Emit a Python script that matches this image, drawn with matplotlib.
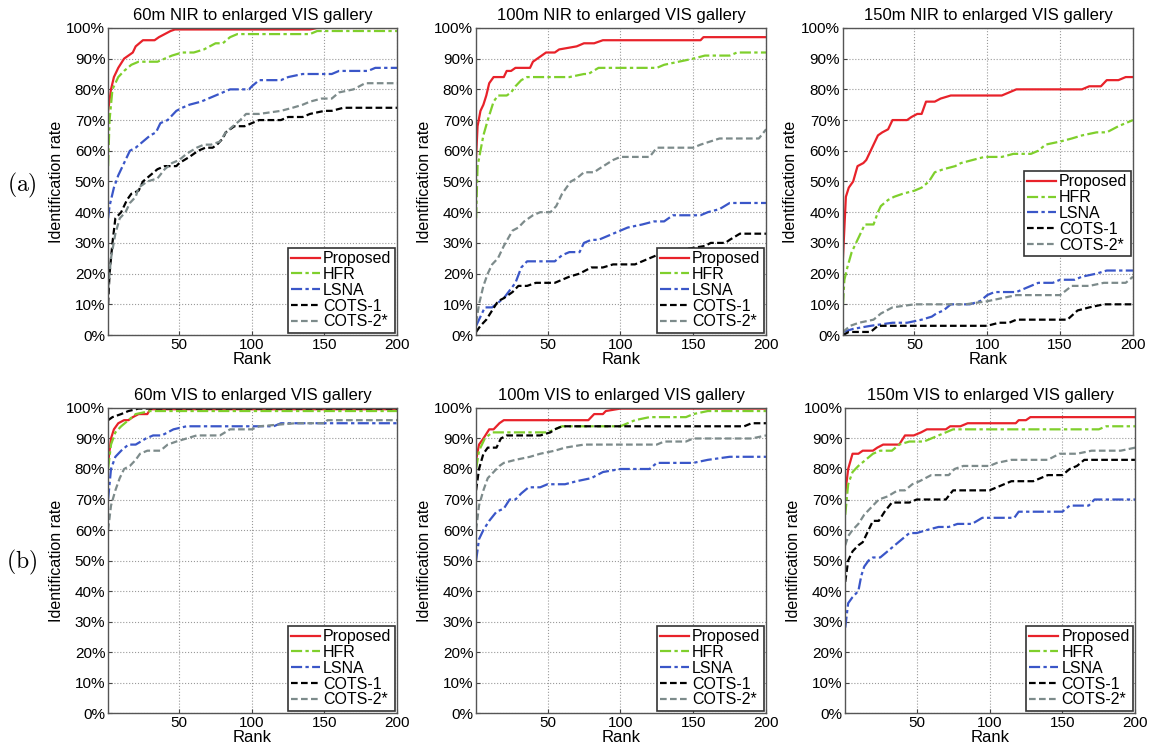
import matplotlib
matplotlib.use("Agg")
import matplotlib.pyplot as plt
from matplotlib.ticker import FuncFormatter

plt.rcParams['font.family'] = ['Liberation Sans', 'DejaVu Sans']
plt.rcParams['mathtext.fontset'] = 'cm'

methods = ['Proposed', 'HFR', 'LSNA', 'COTS-1', 'COTS-2*']
colors = ['#e8222a', '#7fcf2c', '#3a56c8', '#000000', '#7d8b8b']
styles = ['-', (0, (5, 1.5, 1.5, 1.5)), (0, (5, 1.5, 1.5, 1.5)), (0, (3, 1.5)), (0, (3, 1.5))]

titles = ['60m NIR to enlarged VIS gallery', '100m NIR to enlarged VIS gallery',
          '150m NIR to enlarged VIS gallery', '60m VIS to enlarged VIS gallery',
          '100m VIS to enlarged VIS gallery', '150m VIS to enlarged VIS gallery']

# CMC curves, (rank, identification rate %) breakpoints per method
nir60 = {
    'Proposed': [(1, 73), (3, 80), (5, 84), (8, 87), (12, 90), (15, 91), (18, 92), (20, 94), (25, 96),
                 (33, 96), (36, 97), (40, 98), (44, 99), (47, 99.5), (140, 99.5), (145, 100), (200, 100)],
    'HFR': [(1, 55), (2, 70), (4, 80), (8, 84), (12, 86), (17, 88), (22, 89), (35, 89), (40, 90), (45, 91),
            (52, 92), (60, 92), (67, 93), (75, 95), (80, 95), (85, 97), (90, 98), (140, 98), (145, 99), (200, 99)],
    'LSNA': [(1, 38), (2, 42), (5, 48), (8, 52), (12, 56), (16, 60), (20, 61), (25, 63), (30, 65), (34, 66),
             (37, 69), (42, 70), (48, 73), (52, 74), (57, 75), (65, 76), (70, 77), (75, 78), (85, 80), (98, 80),
             (100, 81), (105, 83), (120, 83), (125, 84), (135, 85), (155, 85), (160, 86), (180, 86), (185, 87), (200, 87)],
    'COTS-1': [(1, 10), (2, 20), (4, 30), (6, 38), (10, 40), (14, 44), (17, 46), (22, 47), (25, 50), (30, 52),
               (35, 54), (40, 55), (48, 55), (50, 56), (57, 58), (63, 60), (68, 61), (73, 61), (76, 62), (80, 64),
               (82, 66), (88, 68), (95, 68), (100, 69), (105, 70), (120, 70), (125, 71), (135, 71), (140, 72),
               (150, 73), (155, 73), (163, 74), (200, 74)],
    'COTS-2*': [(1, 15), (3, 25), (6, 33), (9, 38), (13, 40), (16, 43), (20, 45), (22, 48), (28, 50), (35, 51),
                (40, 54), (45, 56), (50, 57), (55, 59), (62, 61), (67, 62), (72, 62), (78, 63), (82, 66), (92, 70),
                (96, 72), (105, 72), (120, 73), (128, 74), (135, 75), (140, 76), (148, 77), (155, 77), (160, 79),
                (170, 80), (178, 82), (200, 82)],
}

nir100 = {
    'Proposed': [(1, 58), (2, 68), (4, 73), (6, 75), (8, 78), (10, 82), (13, 84), (20, 84), (22, 86), (25, 86),
                 (28, 87), (38, 87), (40, 89), (43, 90), (49, 92), (55, 92), (58, 93), (70, 94), (75, 95), (82, 95),
                 (88, 96), (155, 96), (157, 97), (200, 97)],
    'HFR': [(1, 38), (2, 55), (4, 60), (6, 65), (9, 70), (13, 76), (16, 78), (22, 78), (25, 79), (28, 81),
            (32, 83), (36, 84), (65, 84), (75, 85), (78, 85), (85, 87), (125, 87), (130, 88), (140, 89),
            (150, 90), (158, 91), (175, 91), (180, 92), (200, 92)],
    'LSNA': [(1, 3), (4, 6), (7, 9), (12, 9), (20, 12), (28, 17), (32, 22), (36, 24), (55, 24), (60, 26),
             (65, 27), (72, 27), (75, 30), (80, 31), (85, 31), (95, 33), (105, 35), (115, 36), (123, 37),
             (130, 37), (136, 39), (155, 39), (160, 40), (168, 41), (175, 43), (200, 43)],
    'COTS-1': [(1, 1), (4, 3), (8, 5), (12, 8), (16, 11), (20, 12), (26, 14), (30, 16), (36, 16), (42, 17),
               (55, 17), (65, 19), (72, 20), (80, 22), (88, 22), (95, 23), (110, 23), (115, 24), (125, 26),
               (135, 27), (145, 28), (158, 29), (162, 30), (172, 30), (175, 31), (182, 33), (200, 33)],
    'COTS-2*': [(1, 4), (3, 10), (6, 16), (9, 20), (12, 23), (16, 25), (20, 29), (26, 34), (30, 35), (34, 37),
                (40, 39), (45, 40), (52, 40), (56, 42), (60, 46), (66, 50), (70, 51), (75, 53), (82, 53),
                (85, 54), (95, 57), (100, 58), (120, 58), (125, 61), (150, 61), (155, 62), (168, 64),
                (195, 64), (200, 67)],
}

nir150 = {
    'Proposed': [(1, 25), (2, 35), (3, 45), (5, 48), (8, 50), (11, 55), (15, 56), (17, 57), (20, 60), (22, 62),
                 (25, 65), (28, 66), (32, 67), (35, 70), (45, 70), (48, 71), (52, 72), (55, 72), (58, 76),
                 (64, 76), (68, 77), (75, 78), (110, 78), (115, 79), (120, 80), (165, 80), (170, 81), (178, 81),
                 (182, 83), (190, 83), (195, 84), (200, 84)],
    'HFR': [(1, 10), (2, 18), (4, 22), (7, 27), (10, 30), (13, 33), (16, 36), (22, 36), (25, 40), (27, 42),
            (32, 44), (36, 45), (42, 46), (50, 47), (55, 48), (60, 50), (64, 53), (70, 54), (78, 55), (82, 56),
            (90, 57), (98, 58), (110, 58), (118, 59), (130, 59), (135, 60), (140, 62), (150, 63), (158, 64),
            (165, 65), (175, 66), (182, 66), (190, 68), (200, 70)],
    'LSNA': [(1, 1), (8, 2), (20, 3), (35, 4), (45, 4), (55, 5), (62, 6), (65, 7), (70, 8), (75, 10), (88, 10),
             (95, 11), (100, 13), (105, 14), (120, 14), (125, 15), (130, 16), (135, 17), (145, 17), (150, 18),
             (160, 18), (165, 19), (175, 20), (182, 21), (200, 21)],
    'COTS-1': [(1, 0), (5, 1), (20, 1), (25, 3), (100, 3), (108, 4), (115, 4), (120, 5), (155, 5), (162, 8),
               (170, 9), (180, 10), (200, 10)],
    'COTS-2*': [(1, 1), (6, 3), (12, 4), (22, 5), (27, 7), (35, 9), (50, 10), (85, 10), (100, 11), (110, 12),
                (120, 13), (150, 13), (158, 16), (170, 16), (180, 17), (195, 17), (200, 19)],
}

vis60 = {
    'Proposed': [(1, 82), (3, 90), (5, 93), (8, 95), (12, 96), (15, 96), (18, 97), (22, 98), (28, 98),
                 (30, 99.6), (200, 99.6)],
    'HFR': [(1, 80), (3, 88), (6, 92), (10, 94), (15, 96), (20, 98), (30, 99), (200, 99)],
    'LSNA': [(1, 70), (3, 80), (6, 84), (10, 86), (15, 88), (20, 88), (27, 90), (32, 91), (38, 91), (42, 92),
             (46, 93), (55, 94), (115, 94), (120, 95), (200, 95)],
    'COTS-1': [(1, 96), (4, 97), (10, 98), (15, 99), (22, 99.8), (200, 99.8)],
    'COTS-2*': [(1, 60), (3, 68), (6, 73), (9, 77), (12, 80), (16, 81), (20, 83), (23, 85), (28, 86), (37, 86),
                (42, 88), (48, 89), (55, 90), (62, 91), (78, 91), (85, 93), (100, 93), (105, 94), (130, 95),
                (150, 95), (152, 96), (200, 96)],
}

vis100 = {
    'Proposed': [(1, 83), (3, 88), (6, 90), (10, 93), (13, 93), (17, 95), (20, 96), (78, 96), (82, 98),
                 (88, 98), (90, 99), (100, 99.8), (200, 99.8)],
    'HFR': [(1, 80), (3, 86), (7, 90), (12, 92), (50, 92), (55, 93), (60, 94), (100, 94), (105, 95), (110, 96),
            (120, 97), (145, 97), (150, 98), (160, 99), (200, 99)],
    'LSNA': [(1, 50), (3, 57), (6, 60), (10, 63), (15, 66), (20, 67), (24, 70), (28, 70), (32, 72), (37, 74),
             (45, 74), (50, 75), (62, 75), (70, 76), (80, 77), (88, 79), (100, 80), (120, 80), (125, 82),
             (150, 82), (160, 83), (175, 84), (200, 84)],
    'COTS-1': [(1, 73), (3, 80), (6, 85), (9, 87), (15, 87), (18, 90), (22, 91), (45, 91), (52, 92), (55, 93),
               (60, 94), (185, 94), (190, 95), (200, 95)],
    'COTS-2*': [(1, 60), (3, 68), (6, 73), (9, 77), (13, 79), (17, 81), (20, 82), (28, 83), (38, 84), (45, 85),
                (55, 86), (62, 87), (75, 88), (125, 88), (130, 89), (145, 89), (150, 90), (190, 90), (200, 91)],
}

vis150 = {
    'Proposed': [(1, 72), (3, 80), (6, 85), (10, 85), (13, 86), (20, 86), (23, 87), (27, 88), (38, 88),
                 (42, 91), (48, 91), (53, 92), (57, 93), (70, 93), (73, 94), (80, 94), (85, 95), (118, 95),
                 (120, 96), (125, 96), (128, 97), (200, 97)],
    'HFR': [(1, 65), (3, 75), (6, 79), (10, 81), (15, 83), (20, 85), (25, 86), (33, 86), (38, 88), (45, 89),
            (55, 89), (60, 90), (65, 91), (75, 93), (175, 93), (180, 94), (200, 94)],
    'LSNA': [(1, 28), (3, 36), (6, 38), (10, 40), (12, 45), (14, 48), (17, 50), (20, 51), (25, 51), (30, 53),
             (35, 55), (40, 57), (45, 59), (50, 59), (57, 60), (65, 61), (72, 61), (78, 62), (88, 62),
             (95, 64), (117, 64), (120, 66), (150, 66), (155, 68), (168, 68), (172, 70), (200, 70)],
    'COTS-1': [(1, 43), (3, 50), (6, 53), (10, 55), (13, 56), (17, 60), (20, 63), (24, 63), (28, 66), (33, 69),
               (45, 69), (50, 70), (70, 70), (75, 73), (100, 73), (105, 74), (110, 75), (115, 76), (130, 76),
               (135, 77), (140, 78), (150, 78), (155, 80), (160, 81), (165, 83), (200, 83)],
    'COTS-2*': [(1, 55), (3, 58), (6, 60), (10, 62), (14, 65), (18, 67), (24, 70), (30, 71), (37, 73), (42, 73),
                (47, 75), (52, 76), (60, 78), (72, 78), (76, 80), (82, 81), (100, 81), (105, 82), (115, 83),
                (140, 83), (148, 85), (160, 85), (170, 86), (190, 86), (200, 87)],
}

panels = [nir60, nir100, nir150, vis60, vis100, vis150]

# axes rectangles in figure fractions
lefts = [0.094, 0.414, 0.733]
widths = [0.2513, 0.2522, 0.2522]
rows = [(0.5527, 0.4100), (0.0480, 0.4073)]

fig = plt.figure(figsize=(11.5, 7.49), dpi=100)

for i, data in enumerate(panels):
    r, c = divmod(i, 3)
    left = lefts[c] + (0.002 if (r == 1 and c == 2) else 0)
    ax = fig.add_axes([left, rows[r][0], widths[c], rows[r][1]])
    for m, col, ls in zip(methods, colors, styles):
        ranks = [p[0] for p in data[m]]
        rates = [p[1] / 100 for p in data[m]]
        ax.plot(ranks, rates, color=col, linestyle=ls, linewidth=1.6, label=m)
    ax.set_xlim(1, 200)
    ax.set_ylim(0, 1)
    ax.set_xticks([50, 100, 150, 200])
    ax.set_yticks([k / 10 for k in range(11)])
    ax.yaxis.set_major_formatter(FuncFormatter(lambda v, _: f"{v * 100:.0f}%"))
    ax.tick_params(direction='in', length=3, labelsize=11, pad=2, color='#444444')
    ax.grid(True, linestyle=':', color='#9a9a9a', linewidth=0.8)
    for s in ax.spines.values():
        s.set_color('#555555')
        s.set_linewidth(1.0)
    ax.set_title(titles[i], fontsize=12, pad=6)
    ax.set_xlabel('Rank', fontsize=12, labelpad=0)
    ax.set_ylabel('Identification rate', fontsize=11.5, labelpad=2)

    # 150m NIR legend sits higher, the others in the lower right corner
    anchor = (1.0, 0.25) if i == 2 else (1.0, 0.0)
    leg = ax.legend(loc='lower right', bbox_to_anchor=anchor,
                    fontsize=11.5, handlelength=1.8, handletextpad=0.2, labelspacing=0.05,
                    borderpad=0.2, borderaxespad=0.15, fancybox=False, framealpha=1)
    leg.get_frame().set_edgecolor('#333333')
    leg.get_frame().set_linewidth(1.2)

fig.text(0.019, 1 - 185 / 749, r'$\mathrm{(a)}$', fontsize=17, ha='center', va='center')
fig.text(0.019, 1 - 562 / 749, r'$\mathrm{(b)}$', fontsize=17, ha='center', va='center')

fig.savefig('out.png', dpi=100)
